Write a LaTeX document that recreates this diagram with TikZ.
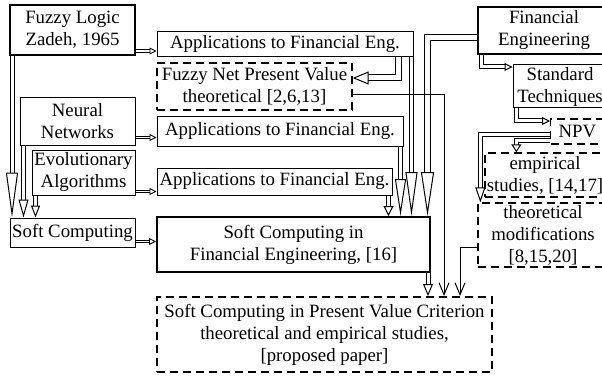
\documentclass[tikz,border=0pt]{standalone}
\usepackage{fontspec}
\setmainfont{Liberation Serif}
\usetikzlibrary{arrows.meta}
\begin{document}
\begin{tikzpicture}[x=1pt,y=-1pt,
  box/.style={draw, line width=1pt, align=center, inner sep=0pt, font=\fontsize{18.8}{22}\selectfont},
  thickbox/.style={box, line width=2pt},
  dashbox/.style={box, line width=1.3pt, dash pattern=on 8pt off 5pt},
  thickdash/.style={box, line width=2pt, dash pattern=on 8pt off 5pt},
  dbl/.style={double, double distance=3pt, line width=1pt},
  thin dbl/.style={double, double distance=1.6pt, line width=0.9pt},
  single/.style={line width=1pt}]
\useasboundingbox (0,0) rectangle (602,377);
\node (fuzzy) [thickbox, minimum width=125, minimum height=50] at (72.5,30) {Fuzzy Logic\\Zadeh, 1965};
\node (app1) [box, minimum width=256, minimum height=25] at (285,44.5) {Applications to Financial Eng.};
\node (fnpv) [dashbox, minimum width=195, minimum height=47] at (254.5,86.5) {Fuzzy Net Present Value\\theoretical [2,6,13]};
\node (neural) [box, minimum width=115, minimum height=47] at (77.5,121.5) {Neural\\Networks};
\node (app2) [box, minimum width=246, minimum height=29] at (280,131.5) {Applications to Financial Eng.};
\node (evol) [box, minimum width=103, minimum height=45] at (83.5,172.5) {Evolutionary\\Algorithms};
\node (app3) [box, minimum width=235, minimum height=27] at (274.5,181.5) {Applications to Financial Eng.};
\node (soft) [box, minimum width=125, minimum height=29] at (72.5,232.5) {Soft Computing};
\node (scfe) [thickbox, minimum width=273, minimum height=55] at (293.5,244.5) {Soft Computing in\\Financial Engineering, [16]};
\node (scpv) [thickdash, minimum width=335, minimum height=75] at (324.5,334.5) {Soft Computing in Present Value Criterion\\theoretical and empirical studies,\\{}[proposed paper]};
\node (fe) [thickbox, minimum width=132, minimum height=47] at (544,30.5) {Financial\\Engineering};
\node (st) [box, minimum width=94, minimum height=43] at (560,86.5) {Standard\\Techniques};
\node (npv) [dashbox, anchor=west, minimum height=25, inner xsep=8pt, text width=50, align=left] at (550,131.5) {NPV};
\node (emp) [dashbox, minimum width=120, minimum height=44] at (545,175) {empirical\\studies, [14,17]};
\node (theo) [dashbox, minimum width=130, minimum height=64] at (543,235) {theoretical\\modifications\\{}[8,15,20]};
\draw[thin dbl, -{Triangle[open,length=7pt,width=7pt]}] ([yshift=5pt]fuzzy.south east) -- ([yshift=5pt]fuzzy.south east -| app1.west);
\draw[thin dbl, -{Triangle[open,length=7pt,width=7pt]}] ([yshift=8pt]neural.south east) -- ([yshift=8pt]neural.south east -| app2.west);
\draw[thin dbl, -{Triangle[open,length=7pt,width=7pt]}] ([yshift=4pt]evol.south east) -- ([yshift=4pt]evol.south east -| app3.west);
\draw[thin dbl, -{Triangle[open,length=7pt,width=7pt]}] ([yshift=6pt]soft.south east) -- ([yshift=6pt]soft.south east -| scfe.west);
\draw[dbl, -{Triangle[open,length=45pt,width=12pt]}] ([xshift=3pt]fuzzy.south west) -- ([xshift=3pt]fuzzy.south west |- soft.north);
\draw[dbl, -{Triangle[open,length=18pt,width=10pt]}] ([xshift=4pt]neural.south west) -- ([xshift=4pt]neural.south west |- soft.north);
\draw[dbl, -{Triangle[open,length=12pt,width=9pt]}] ([xshift=4pt]evol.south west) -- ([xshift=4pt]evol.south west |- soft.north);
\draw[dbl, double distance=5pt, -{Triangle[open,length=16pt,width=13pt]}] ([xshift=-15pt]app1.south east) |- ([yshift=8.5pt]fnpv.east);
\draw[dbl, -{Triangle[open,length=44pt,width=12pt]}] ([xshift=-2pt]app1.south east) -- ([xshift=-2pt]app1.south east |- scfe.north);
\draw[dbl, -{Triangle[open,length=37pt,width=11pt]}] ([xshift=-3pt]app2.south east) -- ([xshift=-3pt]app2.south east |- scfe.north);
\draw[dbl, -{Triangle[open,length=10pt,width=10pt]}] ([xshift=-4pt]app3.south east) -- ([xshift=-4pt]app3.south east |- scfe.north);
\draw[dbl, double distance=5pt, -{Triangle[open,length=44pt,width=13pt]}] ([yshift=-7.5pt]fe.west) -| ([xshift=-3.5pt]scfe.north east);
\draw[single, -{Straight Barb[length=12pt,width=10pt]}] ([yshift=-8.5pt]fnpv.east) -| ([xshift=-49pt]scpv.north east);
\draw[dbl, -{Triangle[open,length=12pt,width=10pt]}] ([xshift=-3pt]scfe.south east) -- ([xshift=-3pt]scfe.south east |- scpv.north);
\draw[single, -{Straight Barb[length=12pt,width=10pt]}] ([yshift=-12pt]theo.west) -| ([xshift=-33pt]scpv.north east);
\draw[dbl, -{Triangle[open,length=8pt,width=8pt]}] ([xshift=4pt]fe.south west) |- ([yshift=19.5pt]st.west);
\draw[dbl, -{Triangle[open,length=8pt,width=8pt]}] ([xshift=4pt]st.south west) |- ([yshift=10.5pt]npv.west);
\draw[dbl, -{Triangle[open,length=15pt,width=10pt]}] ([yshift=-3pt]npv.west) -| ([xshift=3pt]theo.north west);
\draw[dbl, -{Triangle[open,length=8pt,width=10pt]}] ([yshift=-9pt]npv.west) -| ([xshift=32pt]emp.north west);
\end{tikzpicture}
\end{document}
